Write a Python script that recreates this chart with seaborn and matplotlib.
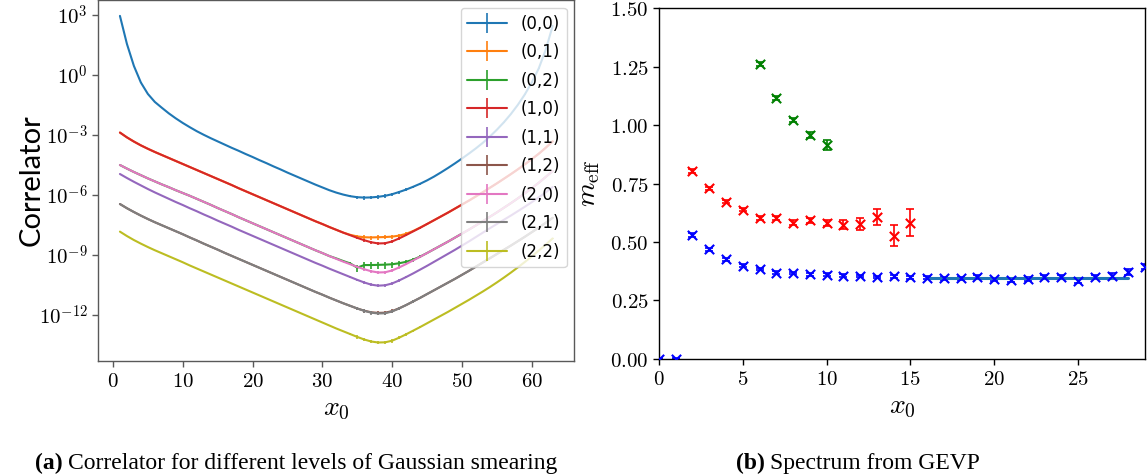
import numpy as np
import pandas as pd
import matplotlib
matplotlib.use("Agg")
import matplotlib.pyplot as plt
from matplotlib.ticker import FixedLocator, FuncFormatter, NullLocator
from matplotlib.container import ErrorbarContainer
from matplotlib.legend_handler import HandlerErrorbar
import seaborn as sns

# ---------------------------------------------------------------------------
# (a) smeared correlators C(x0), stored as log10 values for x0 = 1 .. 63
# ---------------------------------------------------------------------------
x0 = np.arange(1, 64)
pairs = ["(0,0)", "(0,1)", "(0,2)", "(1,0)", "(1,1)", "(1,2)", "(2,0)", "(2,1)", "(2,2)"]

log_c00 = [2.95, 1.55, 0.45, -0.38, -0.95, -1.35, -1.64, -1.92, -2.17, -2.4,
           -2.61, -2.81, -2.99, -3.16, -3.32, -3.48, -3.64, -3.79, -3.95, -4.1,
           -4.26, -4.41, -4.57, -4.72, -4.88, -5.03, -5.18, -5.33, -5.48, -5.62,
           -5.76, -5.88, -5.98, -6.06, -6.11, -6.13, -6.12, -6.09, -6.04, -5.96,
           -5.85, -5.73, -5.59, -5.44, -5.27, -5.08, -4.87, -4.65, -4.42, -4.18,
           -3.93, -3.67, -3.39, -3.08, -2.74, -2.37, -1.96, -1.5, -0.98, -0.38,
           0.32, 1.25, 2.45]

log_c10 = [-2.88, -3.12, -3.33, -3.52, -3.69, -3.85, -4.0, -4.15, -4.3, -4.45,
           -4.6, -4.75, -4.9, -5.05, -5.2, -5.35, -5.5, -5.66, -5.81, -5.96,
           -6.11, -6.26, -6.41, -6.56, -6.71, -6.86, -7.01, -7.16, -7.31, -7.45,
           -7.6, -7.74, -7.88, -8.01, -8.14, -8.26, -8.36, -8.42, -8.41, -8.32,
           -8.17, -8.0, -7.82, -7.64, -7.45, -7.26, -7.07, -6.88, -6.68, -6.48,
           -6.28, -6.07, -5.86, -5.64, -5.42, -5.19, -4.96, -4.72, -4.47, -4.21,
           -3.94, -3.64, -3.32]

log_c01 = [-2.88, -3.12, -3.33, -3.52, -3.69, -3.85, -4.0, -4.15, -4.3, -4.45,
           -4.6, -4.75, -4.9, -5.05, -5.2, -5.35, -5.5, -5.66, -5.81, -5.96,
           -6.11, -6.26, -6.41, -6.56, -6.71, -6.86, -7.01, -7.16, -7.31, -7.45,
           -7.6, -7.74, -7.88, -7.99, -8.07, -8.11, -8.12, -8.11, -8.1, -8.08,
           -8.03, -7.94, -7.8, -7.63, -7.45, -7.26, -7.07, -6.88, -6.68, -6.48,
           -6.28, -6.07, -5.86, -5.64, -5.42, -5.19, -4.96, -4.72, -4.47, -4.21,
           -3.94, -3.64, -3.32]

log_c20 = [-4.5, -4.68, -4.85, -5.01, -5.17, -5.32, -5.47, -5.61, -5.76, -5.9,
           -6.04, -6.19, -6.34, -6.49, -6.65, -6.8, -6.95, -7.11, -7.26, -7.41,
           -7.56, -7.71, -7.86, -8.01, -8.16, -8.31, -8.46, -8.61, -8.76, -8.9,
           -9.05, -9.19, -9.33, -9.46, -9.59, -9.71, -9.81, -9.87, -9.86, -9.77,
           -9.62, -9.45, -9.27, -9.09, -8.9, -8.71, -8.52, -8.33, -8.13, -7.93,
           -7.73, -7.52, -7.31, -7.09, -6.87, -6.64, -6.41, -6.17, -5.92, -5.66,
           -5.39, -5.1, -4.8]

log_c02 = [-4.5, -4.68, -4.85, -5.01, -5.17, -5.32, -5.47, -5.61, -5.76, -5.9,
           -6.04, -6.19, -6.34, -6.49, -6.65, -6.8, -6.95, -7.11, -7.26, -7.41,
           -7.56, -7.71, -7.86, -8.01, -8.16, -8.31, -8.46, -8.61, -8.76, -8.9,
           -9.05, -9.17, -9.3, -9.42, -9.63, -9.5, -9.5, -9.49, -9.48, -9.46,
           -9.41, -9.34, -9.23, -9.08, -8.9, -8.71, -8.52, -8.33, -8.13, -7.93,
           -7.73, -7.52, -7.31, -7.09, -6.87, -6.64, -6.41, -6.17, -5.92, -5.66,
           -5.39, -5.1, -4.8]

log_c11 = [-4.95, -5.15, -5.34, -5.52, -5.7, -5.87, -6.03, -6.19, -6.35, -6.5,
           -6.66, -6.81, -6.97, -7.12, -7.28, -7.43, -7.58, -7.74, -7.89, -8.04,
           -8.19, -8.34, -8.49, -8.64, -8.79, -8.94, -9.09, -9.24, -9.39, -9.53,
           -9.68, -9.82, -9.96, -10.1, -10.24, -10.37, -10.48, -10.53, -10.51, -10.42,
           -10.27, -10.1, -9.92, -9.73, -9.54, -9.34, -9.14, -8.94, -8.74, -8.53,
           -8.32, -8.1, -7.88, -7.66, -7.45, -7.24, -7.03, -6.81, -6.59, -6.36,
           -6.12, -5.87, -5.6]

log_c21 = [-6.45, -6.66, -6.85, -7.03, -7.2, -7.36, -7.51, -7.66, -7.81, -7.96,
           -8.12, -8.27, -8.43, -8.58, -8.73, -8.89, -9.04, -9.19, -9.34, -9.49,
           -9.64, -9.79, -9.94, -10.09, -10.24, -10.39, -10.54, -10.69, -10.84, -10.98,
           -11.13, -11.27, -11.41, -11.54, -11.67, -11.79, -11.88, -11.92, -11.91, -11.82,
           -11.67, -11.5, -11.32, -11.14, -10.95, -10.76, -10.57, -10.38, -10.19, -9.99,
           -9.79, -9.58, -9.37, -9.16, -8.95, -8.74, -8.53, -8.31, -8.09, -7.86,
           -7.63, -7.39, -7.14]

log_c12 = [-6.45, -6.66, -6.85, -7.03, -7.2, -7.36, -7.51, -7.66, -7.81, -7.96,
           -8.12, -8.27, -8.43, -8.58, -8.73, -8.89, -9.04, -9.19, -9.34, -9.49,
           -9.64, -9.79, -9.94, -10.09, -10.24, -10.39, -10.54, -10.69, -10.84, -10.98,
           -11.13, -11.27, -11.41, -11.54, -11.67, -11.78, -11.86, -11.89, -11.88, -11.8,
           -11.66, -11.5, -11.32, -11.14, -10.95, -10.76, -10.57, -10.38, -10.19, -9.99,
           -9.79, -9.58, -9.37, -9.16, -8.95, -8.74, -8.53, -8.31, -8.09, -7.86,
           -7.63, -7.39, -7.14]

log_c22 = [-7.83, -8.05, -8.25, -8.43, -8.6, -8.76, -8.91, -9.06, -9.21, -9.36,
           -9.52, -9.67, -9.82, -9.97, -10.12, -10.27, -10.42, -10.57, -10.72, -10.87,
           -11.02, -11.17, -11.32, -11.47, -11.62, -11.77, -11.92, -12.07, -12.22, -12.37,
           -12.52, -12.67, -12.81, -12.95, -13.09, -13.22, -13.32, -13.37, -13.36, -13.28,
           -13.13, -12.96, -12.78, -12.6, -12.41, -12.22, -12.03, -11.84, -11.64, -11.44,
           -11.24, -11.03, -10.82, -10.6, -10.37, -10.13, -9.88, -9.62, -9.35, -9.07,
           -8.78, -8.48, -8.17]

# relative statistical error per time slice, and a per-correlator factor
rel_err = [0.005] * 30 + [0.02, 0.03, 0.05, 0.1, 0.2, 0.2, 0.2, 0.2, 0.2, 0.2,
                          0.18, 0.15, 0.12, 0.1, 0.08, 0.06, 0.05] + [0.03] * 16
err_scale = [1.0, 1.2, 1.8, 0.8, 0.8, 1.0, 0.7, 1.0, 1.0]

correlators = [log_c00, log_c01, log_c02, log_c10, log_c11,
               log_c12, log_c20, log_c21, log_c22]

y_tick_exponents = [-12, -9, -6, -3, 0, 3]
x_ticks_a = [0, 10, 20, 30, 40, 50, 60]

# ---------------------------------------------------------------------------
# (b) effective masses of the GEVP states
# ---------------------------------------------------------------------------
t_ground = np.arange(0, 30)
meff_ground = [0.0, 0.0, 0.529, 0.468, 0.425, 0.398, 0.384, 0.369, 0.367, 0.362,
               0.360, 0.356, 0.354, 0.350, 0.352, 0.349, 0.346, 0.345, 0.345, 0.350,
               0.340, 0.337, 0.342, 0.350, 0.350, 0.333, 0.349, 0.356, 0.370, 0.394]
meff_ground_err = [0.002, 0.002, 0.008, 0.006, 0.006, 0.006, 0.006, 0.006, 0.006, 0.006,
                   0.006, 0.006, 0.006, 0.006, 0.006, 0.006, 0.006, 0.006, 0.006, 0.007,
                   0.007, 0.007, 0.008, 0.008, 0.008, 0.010, 0.008, 0.010, 0.012, 0.012]

t_first = np.arange(2, 16)
meff_first = [0.805, 0.729, 0.673, 0.638, 0.603, 0.601, 0.583, 0.593, 0.580, 0.574,
              0.576, 0.607, 0.527, 0.583]
meff_first_err = [0.008, 0.006, 0.007, 0.007, 0.008, 0.008, 0.010, 0.010, 0.012, 0.019,
                  0.026, 0.035, 0.044, 0.059]

t_second = np.arange(6, 11)
meff_second = [1.263, 1.116, 1.022, 0.958, 0.915]
meff_second_err = [0.008, 0.008, 0.010, 0.012, 0.020]

plateau_range = [16, 28]
plateau_value = 0.345

x_ticks_b = [0, 5, 10, 15, 20, 25]
y_ticks_b = [0.0, 0.25, 0.5, 0.75, 1.0, 1.25, 1.5]

# ---------------------------------------------------------------------------
sns.set_theme(style="ticks", rc={
    "axes.linewidth": 1.0,
    "xtick.major.size": 4,
    "ytick.major.size": 4,
    "xtick.major.width": 1.0,
    "ytick.major.width": 1.0,
    "legend.frameon": True,
})
plt.rcParams["font.family"] = ["DejaVu Sans"]
plt.rcParams["mathtext.fontset"] = "cm"
plt.rcParams["text.color"] = "black"
plt.rcParams["axes.labelcolor"] = "black"

fig = plt.figure(figsize=(11.47, 4.75), dpi=100)
ax1 = fig.add_axes([0.0857, 0.2406, 0.4150, 0.7584])
ax2 = fig.add_axes([0.5745, 0.2448, 0.4238, 0.7377])

palette = sns.color_palette("tab10", len(pairs))

# ---- panel (a) ----
ax1.set_yscale("log")
handles = []
for lab, logc, col, es in zip(pairs, correlators, palette, err_scale):
    c = 10.0 ** np.asarray(logc)
    err = c * np.asarray(rel_err) * es
    df = pd.DataFrame({"x0": x0, "C": c})
    sns.lineplot(data=df, x="x0", y="C", color=col, linewidth=1.5,
                 estimator=None, ax=ax1)
    line = ax1.lines[-1]
    eb = ax1.errorbar(x0, c, yerr=err, fmt="none", ecolor=col, elinewidth=1.2)
    handles.append(ErrorbarContainer((line, eb[1], eb[2]), has_xerr=False,
                                     has_yerr=True, label=lab))

ax1.set_xlim(-2.1, 66.1)
ax1.set_ylim(10 ** -14.28, 10 ** 3.72)
ax1.yaxis.set_major_locator(FixedLocator([10.0 ** e for e in y_tick_exponents]))
ax1.yaxis.set_minor_locator(NullLocator())
ax1.yaxis.set_major_formatter(
    FuncFormatter(lambda v, p: r"$10^{%d}$" % int(round(np.log10(v)))))
ax1.xaxis.set_major_locator(FixedLocator(x_ticks_a))
ax1.xaxis.set_major_formatter(FuncFormatter(lambda v, p: r"$%d$" % int(v)))
ax1.tick_params(labelsize=15, colors="0.35", labelcolor="black")
for s in ax1.spines.values():
    s.set_color("0.35")
ax1.set_xlabel(r"$x_0$", fontsize=20, labelpad=2)
ax1.set_ylabel("Correlator", fontsize=21, family="Lato")
ax1.yaxis.set_label_coords(-0.112, 0.5)

leg = ax1.legend(handles, pairs, loc="upper right", fontsize=12,
                 handlelength=2.4, labelspacing=0.63, borderaxespad=0.45,
                 handler_map={ErrorbarContainer: HandlerErrorbar(yerr_size=0.6)})
leg.get_frame().set_edgecolor("0.8")

# ---- panel (b) ----
for t, m, e, col in [(t_ground, meff_ground, meff_ground_err, "blue"),
                     (t_first, meff_first, meff_first_err, "red"),
                     (t_second, meff_second, meff_second_err, "green")]:
    ax2.errorbar(t, m, yerr=e, fmt="none", ecolor=col, elinewidth=1.2,
                 capsize=3, capthick=1.2)
    sns.scatterplot(x=t, y=m, marker="x", color=col, s=45, linewidth=1.5,
                    ax=ax2, zorder=3)

sns.lineplot(x=plateau_range, y=[plateau_value, plateau_value], color="#1f77b4",
             linewidth=2.2, ax=ax2)

ax2.set_xlim(0, 29)
ax2.set_ylim(0, 1.5)
ax2.xaxis.set_major_locator(FixedLocator(x_ticks_b))
ax2.yaxis.set_major_locator(FixedLocator(y_ticks_b))
ax2.xaxis.set_major_formatter(FuncFormatter(lambda v, p: r"$%d$" % int(round(v))))
ax2.yaxis.set_major_formatter(FuncFormatter(lambda v, p: r"$%.2f$" % v))
ax2.tick_params(labelsize=15, colors="black")
for s in ax2.spines.values():
    s.set_color("black")
ax2.set_xlabel(r"$x_0$", fontsize=20, labelpad=2)
ax2.set_ylabel(r"$m_{\rm eff}$", fontsize=20, labelpad=6)

# ---- sub-captions ----
cap_y = 1 - 469 / 475
cap_font = dict(family="Liberation Serif", fontsize=17, color="black")
ta = fig.text(35 / 1147, cap_y, "(a)", fontweight="bold", va="baseline", **cap_font)
tb = fig.text(736 / 1147, cap_y, "(b)", fontweight="bold", va="baseline", **cap_font)
for t_art, txt in [(ta, "Correlator for different levels of Gaussian smearing"),
                   (tb, "Spectrum from GEVP")]:
    ax1.annotate(txt, xy=(1, 0), xycoords=t_art, xytext=(4, 0),
                 textcoords="offset points", va="bottom", ha="left",
                 annotation_clip=False, **cap_font)

fig.savefig("out.png", dpi=100)
